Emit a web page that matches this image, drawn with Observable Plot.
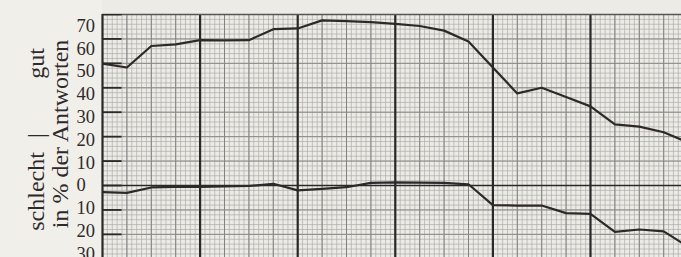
<!DOCTYPE html>
<html><head><meta charset="utf-8">
<script src="https://cdn.jsdelivr.net/npm/d3@7"></script>
<script src="https://cdn.jsdelivr.net/npm/@observablehq/plot@0.6"></script>
<style>
html,body{margin:0;padding:0;background:#f1efea;}
#chart{display:flex;width:681px;height:257px;overflow:hidden;}
#chart svg{display:block;flex:none;}
g[aria-label="ticklabels"] text{letter-spacing:4px;}
</style></head><body><div id="chart"></div>
<script>
// x positions: quarter steps (heavy grid line every 4)
const quarters = d3.range(0, 25);
// "gut" in % der Antworten (upper line)
const gut = [49.9, 48.3, 57.1, 57.8, 59.5, 59.4, 59.5, 64.0, 64.3, 67.6, 67.3, 66.9, 66.2, 65.3, 63.4, 58.9, 48.3, 37.7, 40.0, 36.2, 32.4, 25.0, 24.1, 21.8, 17.6];
// "schlecht" plotted below the zero line (negative = schlecht)
const schlecht = [-2.7, -3.0, -0.8, -0.6, -0.6, -0.4, -0.2, 0.7, -2.0, -1.4, -0.7, 1.1, 1.3, 1.2, 1.1, 0.5, -8.0, -8.2, -8.2, -11.3, -11.6, -19.0, -18.0, -18.8, -25.0];
const tickValues = [70, 60, 50, 40, 30, 20, 10, 0, -10, -20, -30];
const tickLabels = ["70", "60", "50", "40", "30", "20", "10", "0", "10", "20", "30"];
const titleParts = [
  {text: "gut", y: 53.5, col: 35.5},
  {text: "|", y: 21.9, col: 35.5},
  {text: "schlecht", y: -2.6, col: 35.5},
  {text: "in % der Antworten", y: 22.6, col: 59.5}
];

const ink = "#2f2a2a";

const labels = Plot.plot({
  width: 102, height: 257, margin: 0,
  style: {background: "transparent", fontFamily: "'Liberation Serif', 'DejaVu Serif', serif", color: ink},
  x: {axis: null, domain: [0, 102]},
  y: {axis: null, domain: [-31.58, 81.14]},
  marks: [
    Plot.text(tickValues, {x: () => 76, y: d => d, text: (d, i) => tickLabels[i], textAnchor: "start", fontSize: 18.5, fill: ink, ariaLabel: "ticklabels"}),
    Plot.text(titleParts, {x: "col", y: "y", text: "text", rotate: -90, fontSize: 24, fill: ink})
  ]
});

const paper = Plot.plot({
  width: 579, height: 257,
  marginLeft: 0, marginRight: 0, marginTop: 14, marginBottom: 0,
  style: {background: "#ecebe6", overflow: "visible"},
  x: {axis: null, domain: [0, 23.73]},
  y: {axis: null, domain: [-29.47, 70]},
  marks: [
    Plot.ruleX(d3.range(0, 23.8, 0.2), {stroke: "#adada9", strokeWidth: 0.7}),
    Plot.ruleY(d3.range(-28, 70, 2), {stroke: "#adada9", strokeWidth: 0.7}),
    Plot.ruleX(d3.range(1, 24, 1), {stroke: "#818180", strokeWidth: 1}),
    Plot.ruleY(d3.range(-20, 70, 10), {stroke: "#8a8a87", strokeWidth: 1}),
    Plot.ruleX([0, 4, 8, 12, 16, 20], {stroke: "#2b2828", strokeWidth: 2.2}),
    Plot.ruleY([70], {stroke: "#555", strokeWidth: 1.5}),
    Plot.ruleY([0], {stroke: "#2b2828", strokeWidth: 1.6}),
    Plot.ruleY(tickValues, {x1: 0, x2: 0.8, stroke: "#2b2828", strokeWidth: 1.8, clip: true}),
    Plot.line(quarters, {x: d => d, y: (d, i) => gut[i], stroke: "#2e2929", strokeWidth: 2.2, clip: true}),
    Plot.line(quarters, {x: d => d, y: (d, i) => schlecht[i], stroke: "#2e2929", strokeWidth: 2.2, clip: true})
  ]
});

document.getElementById("chart").append(labels, paper);
</script></body></html>
